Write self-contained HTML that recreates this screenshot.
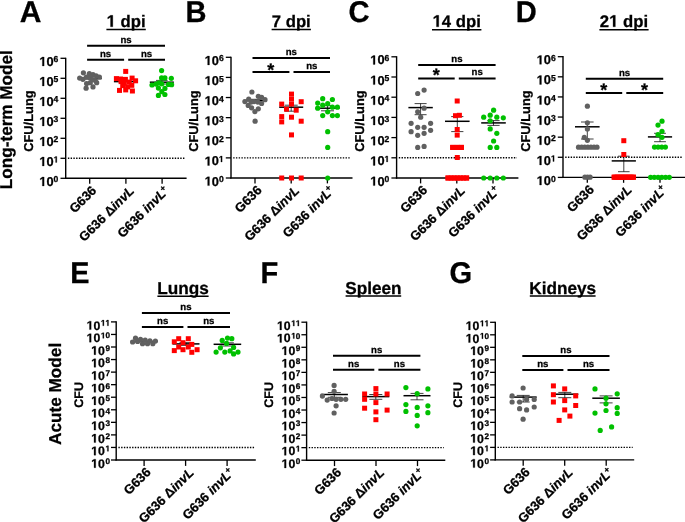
<!DOCTYPE html>
<html><head><meta charset="utf-8"><style>
html,body{margin:0;padding:0;background:#fff;}
svg{display:block;will-change:transform;}
text{font-family:"Liberation Sans", sans-serif;fill:#000;stroke:#000;stroke-width:0.28px;text-rendering:geometricPrecision;}
path.g1{stroke:#000;stroke-width:0.28px;}
</style></head><body>
<svg width="685" height="522" viewBox="0 0 685 522">
<rect width="685" height="522" fill="#fff"/>
<line x1="65.70" y1="57.70" x2="65.70" y2="178.90" stroke="#000" stroke-width="1.4" />
<line x1="60.50" y1="178.30" x2="65.70" y2="178.30" stroke="#000" stroke-width="1.3" />
<text x="53.62" y="182.40" font-size="8.6" font-weight="bold" style="font-kerning:none" xml:space="preserve" >0</text>
<path class="g1" vector-effect="non-scaling-stroke" d="M478,0 L478,1170 L140,959 L140,1180 L493,1409 L759,1409 L759,0 Z" transform="translate(39.38,185.90) scale(0.00625,-0.00625)"/>
<text x="46.50" y="185.90" font-size="12.8" font-weight="bold" style="font-kerning:none" xml:space="preserve" >0</text>
<line x1="60.50" y1="158.30" x2="65.70" y2="158.30" stroke="#000" stroke-width="1.3" />
<path class="g1" vector-effect="non-scaling-stroke" d="M478,0 L478,1170 L140,959 L140,1180 L493,1409 L759,1409 L759,0 Z" transform="translate(53.62,162.40) scale(0.00420,-0.00420)"/>
<path class="g1" vector-effect="non-scaling-stroke" d="M478,0 L478,1170 L140,959 L140,1180 L493,1409 L759,1409 L759,0 Z" transform="translate(39.38,165.90) scale(0.00625,-0.00625)"/>
<text x="46.50" y="165.90" font-size="12.8" font-weight="bold" style="font-kerning:none" xml:space="preserve" >0</text>
<line x1="60.50" y1="138.30" x2="65.70" y2="138.30" stroke="#000" stroke-width="1.3" />
<text x="53.62" y="142.40" font-size="8.6" font-weight="bold" style="font-kerning:none" xml:space="preserve" >2</text>
<path class="g1" vector-effect="non-scaling-stroke" d="M478,0 L478,1170 L140,959 L140,1180 L493,1409 L759,1409 L759,0 Z" transform="translate(39.38,145.90) scale(0.00625,-0.00625)"/>
<text x="46.50" y="145.90" font-size="12.8" font-weight="bold" style="font-kerning:none" xml:space="preserve" >0</text>
<line x1="60.50" y1="118.30" x2="65.70" y2="118.30" stroke="#000" stroke-width="1.3" />
<text x="53.62" y="122.40" font-size="8.6" font-weight="bold" style="font-kerning:none" xml:space="preserve" >3</text>
<path class="g1" vector-effect="non-scaling-stroke" d="M478,0 L478,1170 L140,959 L140,1180 L493,1409 L759,1409 L759,0 Z" transform="translate(39.38,125.90) scale(0.00625,-0.00625)"/>
<text x="46.50" y="125.90" font-size="12.8" font-weight="bold" style="font-kerning:none" xml:space="preserve" >0</text>
<line x1="60.50" y1="98.30" x2="65.70" y2="98.30" stroke="#000" stroke-width="1.3" />
<text x="53.62" y="102.40" font-size="8.6" font-weight="bold" style="font-kerning:none" xml:space="preserve" >4</text>
<path class="g1" vector-effect="non-scaling-stroke" d="M478,0 L478,1170 L140,959 L140,1180 L493,1409 L759,1409 L759,0 Z" transform="translate(39.38,105.90) scale(0.00625,-0.00625)"/>
<text x="46.50" y="105.90" font-size="12.8" font-weight="bold" style="font-kerning:none" xml:space="preserve" >0</text>
<line x1="60.50" y1="78.30" x2="65.70" y2="78.30" stroke="#000" stroke-width="1.3" />
<text x="53.62" y="82.40" font-size="8.6" font-weight="bold" style="font-kerning:none" xml:space="preserve" >5</text>
<path class="g1" vector-effect="non-scaling-stroke" d="M478,0 L478,1170 L140,959 L140,1180 L493,1409 L759,1409 L759,0 Z" transform="translate(39.38,85.90) scale(0.00625,-0.00625)"/>
<text x="46.50" y="85.90" font-size="12.8" font-weight="bold" style="font-kerning:none" xml:space="preserve" >0</text>
<line x1="60.50" y1="58.30" x2="65.70" y2="58.30" stroke="#000" stroke-width="1.3" />
<text x="53.62" y="62.40" font-size="8.6" font-weight="bold" style="font-kerning:none" xml:space="preserve" >6</text>
<path class="g1" vector-effect="non-scaling-stroke" d="M478,0 L478,1170 L140,959 L140,1180 L493,1409 L759,1409 L759,0 Z" transform="translate(39.38,65.90) scale(0.00625,-0.00625)"/>
<text x="46.50" y="65.90" font-size="12.8" font-weight="bold" style="font-kerning:none" xml:space="preserve" >0</text>
<line x1="65.00" y1="178.30" x2="186.60" y2="178.30" stroke="#000" stroke-width="1.4" />
<line x1="89.70" y1="178.30" x2="89.70" y2="183.70" stroke="#000" stroke-width="1.3" />
<line x1="125.90" y1="178.30" x2="125.90" y2="183.70" stroke="#000" stroke-width="1.3" />
<line x1="162.10" y1="178.30" x2="162.10" y2="183.70" stroke="#000" stroke-width="1.3" />
<line x1="67.90" y1="158.30" x2="185.10" y2="158.30" stroke="#000" stroke-width="1.4" stroke-dasharray="1.4 1.34"/>
<text transform="translate(97.20,191.30) rotate(-45)" font-size="13" font-weight="bold" text-anchor="end" stroke="#000" stroke-width="0.35">G636</text>
<text transform="translate(134.90,191.60) rotate(-45)" font-size="13" font-weight="bold" text-anchor="end" stroke="#000" stroke-width="0.35">G636 Δ<tspan font-style="italic">invL</tspan></text>
<text transform="translate(169.63,191.67) rotate(-45)" font-size="13" font-weight="bold" text-anchor="end" stroke="#000" stroke-width="0.35">G636 <tspan font-style="italic">invL</tspan><tspan dx="-0.77" dy="-4.5" font-size="8.5" stroke="#000" stroke-width="0.35">+</tspan></text>
<text transform="translate(33.00,121.1) rotate(-90)" font-size="12.85" font-weight="bold" text-anchor="middle">CFU/Lung</text>
<line x1="231.00" y1="56.70" x2="231.00" y2="178.60" stroke="#000" stroke-width="1.4" />
<line x1="225.80" y1="178.00" x2="231.00" y2="178.00" stroke="#000" stroke-width="1.3" />
<text x="218.92" y="182.10" font-size="8.6" font-weight="bold" style="font-kerning:none" xml:space="preserve" >0</text>
<path class="g1" vector-effect="non-scaling-stroke" d="M478,0 L478,1170 L140,959 L140,1180 L493,1409 L759,1409 L759,0 Z" transform="translate(204.68,185.60) scale(0.00625,-0.00625)"/>
<text x="211.80" y="185.60" font-size="12.8" font-weight="bold" style="font-kerning:none" xml:space="preserve" >0</text>
<line x1="225.80" y1="157.88" x2="231.00" y2="157.88" stroke="#000" stroke-width="1.3" />
<path class="g1" vector-effect="non-scaling-stroke" d="M478,0 L478,1170 L140,959 L140,1180 L493,1409 L759,1409 L759,0 Z" transform="translate(218.92,161.98) scale(0.00420,-0.00420)"/>
<path class="g1" vector-effect="non-scaling-stroke" d="M478,0 L478,1170 L140,959 L140,1180 L493,1409 L759,1409 L759,0 Z" transform="translate(204.68,165.48) scale(0.00625,-0.00625)"/>
<text x="211.80" y="165.48" font-size="12.8" font-weight="bold" style="font-kerning:none" xml:space="preserve" >0</text>
<line x1="225.80" y1="137.77" x2="231.00" y2="137.77" stroke="#000" stroke-width="1.3" />
<text x="218.92" y="141.87" font-size="8.6" font-weight="bold" style="font-kerning:none" xml:space="preserve" >2</text>
<path class="g1" vector-effect="non-scaling-stroke" d="M478,0 L478,1170 L140,959 L140,1180 L493,1409 L759,1409 L759,0 Z" transform="translate(204.68,145.37) scale(0.00625,-0.00625)"/>
<text x="211.80" y="145.37" font-size="12.8" font-weight="bold" style="font-kerning:none" xml:space="preserve" >0</text>
<line x1="225.80" y1="117.65" x2="231.00" y2="117.65" stroke="#000" stroke-width="1.3" />
<text x="218.92" y="121.75" font-size="8.6" font-weight="bold" style="font-kerning:none" xml:space="preserve" >3</text>
<path class="g1" vector-effect="non-scaling-stroke" d="M478,0 L478,1170 L140,959 L140,1180 L493,1409 L759,1409 L759,0 Z" transform="translate(204.68,125.25) scale(0.00625,-0.00625)"/>
<text x="211.80" y="125.25" font-size="12.8" font-weight="bold" style="font-kerning:none" xml:space="preserve" >0</text>
<line x1="225.80" y1="97.53" x2="231.00" y2="97.53" stroke="#000" stroke-width="1.3" />
<text x="218.92" y="101.63" font-size="8.6" font-weight="bold" style="font-kerning:none" xml:space="preserve" >4</text>
<path class="g1" vector-effect="non-scaling-stroke" d="M478,0 L478,1170 L140,959 L140,1180 L493,1409 L759,1409 L759,0 Z" transform="translate(204.68,105.13) scale(0.00625,-0.00625)"/>
<text x="211.80" y="105.13" font-size="12.8" font-weight="bold" style="font-kerning:none" xml:space="preserve" >0</text>
<line x1="225.80" y1="77.42" x2="231.00" y2="77.42" stroke="#000" stroke-width="1.3" />
<text x="218.92" y="81.52" font-size="8.6" font-weight="bold" style="font-kerning:none" xml:space="preserve" >5</text>
<path class="g1" vector-effect="non-scaling-stroke" d="M478,0 L478,1170 L140,959 L140,1180 L493,1409 L759,1409 L759,0 Z" transform="translate(204.68,85.02) scale(0.00625,-0.00625)"/>
<text x="211.80" y="85.02" font-size="12.8" font-weight="bold" style="font-kerning:none" xml:space="preserve" >0</text>
<line x1="225.80" y1="57.30" x2="231.00" y2="57.30" stroke="#000" stroke-width="1.3" />
<text x="218.92" y="61.40" font-size="8.6" font-weight="bold" style="font-kerning:none" xml:space="preserve" >6</text>
<path class="g1" vector-effect="non-scaling-stroke" d="M478,0 L478,1170 L140,959 L140,1180 L493,1409 L759,1409 L759,0 Z" transform="translate(204.68,64.90) scale(0.00625,-0.00625)"/>
<text x="211.80" y="64.90" font-size="12.8" font-weight="bold" style="font-kerning:none" xml:space="preserve" >0</text>
<line x1="230.30" y1="178.00" x2="352.50" y2="178.00" stroke="#000" stroke-width="1.4" />
<line x1="255.00" y1="178.00" x2="255.00" y2="183.40" stroke="#000" stroke-width="1.3" />
<line x1="291.20" y1="178.00" x2="291.20" y2="183.40" stroke="#000" stroke-width="1.3" />
<line x1="327.40" y1="178.00" x2="327.40" y2="183.40" stroke="#000" stroke-width="1.3" />
<line x1="233.20" y1="157.88" x2="351.00" y2="157.88" stroke="#000" stroke-width="1.4" stroke-dasharray="1.4 1.34"/>
<text transform="translate(262.50,191.00) rotate(-45)" font-size="13" font-weight="bold" text-anchor="end" stroke="#000" stroke-width="0.35">G636</text>
<text transform="translate(300.20,191.30) rotate(-45)" font-size="13" font-weight="bold" text-anchor="end" stroke="#000" stroke-width="0.35">G636 Δ<tspan font-style="italic">invL</tspan></text>
<text transform="translate(334.93,191.37) rotate(-45)" font-size="13" font-weight="bold" text-anchor="end" stroke="#000" stroke-width="0.35">G636 <tspan font-style="italic">invL</tspan><tspan dx="-0.77" dy="-4.5" font-size="8.5" stroke="#000" stroke-width="0.35">+</tspan></text>
<text transform="translate(198.30,121.1) rotate(-90)" font-size="12.85" font-weight="bold" text-anchor="middle">CFU/Lung</text>
<line x1="396.60" y1="56.20" x2="396.60" y2="178.60" stroke="#000" stroke-width="1.4" />
<line x1="391.40" y1="178.00" x2="396.60" y2="178.00" stroke="#000" stroke-width="1.3" />
<text x="384.52" y="182.10" font-size="8.6" font-weight="bold" style="font-kerning:none" xml:space="preserve" >0</text>
<path class="g1" vector-effect="non-scaling-stroke" d="M478,0 L478,1170 L140,959 L140,1180 L493,1409 L759,1409 L759,0 Z" transform="translate(370.28,185.60) scale(0.00625,-0.00625)"/>
<text x="377.40" y="185.60" font-size="12.8" font-weight="bold" style="font-kerning:none" xml:space="preserve" >0</text>
<line x1="391.40" y1="157.80" x2="396.60" y2="157.80" stroke="#000" stroke-width="1.3" />
<path class="g1" vector-effect="non-scaling-stroke" d="M478,0 L478,1170 L140,959 L140,1180 L493,1409 L759,1409 L759,0 Z" transform="translate(384.52,161.90) scale(0.00420,-0.00420)"/>
<path class="g1" vector-effect="non-scaling-stroke" d="M478,0 L478,1170 L140,959 L140,1180 L493,1409 L759,1409 L759,0 Z" transform="translate(370.28,165.40) scale(0.00625,-0.00625)"/>
<text x="377.40" y="165.40" font-size="12.8" font-weight="bold" style="font-kerning:none" xml:space="preserve" >0</text>
<line x1="391.40" y1="137.60" x2="396.60" y2="137.60" stroke="#000" stroke-width="1.3" />
<text x="384.52" y="141.70" font-size="8.6" font-weight="bold" style="font-kerning:none" xml:space="preserve" >2</text>
<path class="g1" vector-effect="non-scaling-stroke" d="M478,0 L478,1170 L140,959 L140,1180 L493,1409 L759,1409 L759,0 Z" transform="translate(370.28,145.20) scale(0.00625,-0.00625)"/>
<text x="377.40" y="145.20" font-size="12.8" font-weight="bold" style="font-kerning:none" xml:space="preserve" >0</text>
<line x1="391.40" y1="117.40" x2="396.60" y2="117.40" stroke="#000" stroke-width="1.3" />
<text x="384.52" y="121.50" font-size="8.6" font-weight="bold" style="font-kerning:none" xml:space="preserve" >3</text>
<path class="g1" vector-effect="non-scaling-stroke" d="M478,0 L478,1170 L140,959 L140,1180 L493,1409 L759,1409 L759,0 Z" transform="translate(370.28,125.00) scale(0.00625,-0.00625)"/>
<text x="377.40" y="125.00" font-size="12.8" font-weight="bold" style="font-kerning:none" xml:space="preserve" >0</text>
<line x1="391.40" y1="97.20" x2="396.60" y2="97.20" stroke="#000" stroke-width="1.3" />
<text x="384.52" y="101.30" font-size="8.6" font-weight="bold" style="font-kerning:none" xml:space="preserve" >4</text>
<path class="g1" vector-effect="non-scaling-stroke" d="M478,0 L478,1170 L140,959 L140,1180 L493,1409 L759,1409 L759,0 Z" transform="translate(370.28,104.80) scale(0.00625,-0.00625)"/>
<text x="377.40" y="104.80" font-size="12.8" font-weight="bold" style="font-kerning:none" xml:space="preserve" >0</text>
<line x1="391.40" y1="77.00" x2="396.60" y2="77.00" stroke="#000" stroke-width="1.3" />
<text x="384.52" y="81.10" font-size="8.6" font-weight="bold" style="font-kerning:none" xml:space="preserve" >5</text>
<path class="g1" vector-effect="non-scaling-stroke" d="M478,0 L478,1170 L140,959 L140,1180 L493,1409 L759,1409 L759,0 Z" transform="translate(370.28,84.60) scale(0.00625,-0.00625)"/>
<text x="377.40" y="84.60" font-size="12.8" font-weight="bold" style="font-kerning:none" xml:space="preserve" >0</text>
<line x1="391.40" y1="56.80" x2="396.60" y2="56.80" stroke="#000" stroke-width="1.3" />
<text x="384.52" y="60.90" font-size="8.6" font-weight="bold" style="font-kerning:none" xml:space="preserve" >6</text>
<path class="g1" vector-effect="non-scaling-stroke" d="M478,0 L478,1170 L140,959 L140,1180 L493,1409 L759,1409 L759,0 Z" transform="translate(370.28,64.40) scale(0.00625,-0.00625)"/>
<text x="377.40" y="64.40" font-size="12.8" font-weight="bold" style="font-kerning:none" xml:space="preserve" >0</text>
<line x1="395.90" y1="178.00" x2="518.40" y2="178.00" stroke="#000" stroke-width="1.4" />
<line x1="420.60" y1="178.00" x2="420.60" y2="183.40" stroke="#000" stroke-width="1.3" />
<line x1="456.80" y1="178.00" x2="456.80" y2="183.40" stroke="#000" stroke-width="1.3" />
<line x1="493.00" y1="178.00" x2="493.00" y2="183.40" stroke="#000" stroke-width="1.3" />
<line x1="398.80" y1="157.80" x2="516.90" y2="157.80" stroke="#000" stroke-width="1.4" stroke-dasharray="1.4 1.34"/>
<text transform="translate(428.10,191.00) rotate(-45)" font-size="13" font-weight="bold" text-anchor="end" stroke="#000" stroke-width="0.35">G636</text>
<text transform="translate(465.80,191.30) rotate(-45)" font-size="13" font-weight="bold" text-anchor="end" stroke="#000" stroke-width="0.35">G636 Δ<tspan font-style="italic">invL</tspan></text>
<text transform="translate(500.53,191.37) rotate(-45)" font-size="13" font-weight="bold" text-anchor="end" stroke="#000" stroke-width="0.35">G636 <tspan font-style="italic">invL</tspan><tspan dx="-0.77" dy="-4.5" font-size="8.5" stroke="#000" stroke-width="0.35">+</tspan></text>
<text transform="translate(363.90,121.1) rotate(-90)" font-size="12.85" font-weight="bold" text-anchor="middle">CFU/Lung</text>
<line x1="563.00" y1="56.10" x2="563.00" y2="178.00" stroke="#000" stroke-width="1.4" />
<line x1="557.80" y1="177.40" x2="563.00" y2="177.40" stroke="#000" stroke-width="1.3" />
<text x="550.92" y="181.50" font-size="8.6" font-weight="bold" style="font-kerning:none" xml:space="preserve" >0</text>
<path class="g1" vector-effect="non-scaling-stroke" d="M478,0 L478,1170 L140,959 L140,1180 L493,1409 L759,1409 L759,0 Z" transform="translate(536.68,185.00) scale(0.00625,-0.00625)"/>
<text x="543.80" y="185.00" font-size="12.8" font-weight="bold" style="font-kerning:none" xml:space="preserve" >0</text>
<line x1="557.80" y1="157.28" x2="563.00" y2="157.28" stroke="#000" stroke-width="1.3" />
<path class="g1" vector-effect="non-scaling-stroke" d="M478,0 L478,1170 L140,959 L140,1180 L493,1409 L759,1409 L759,0 Z" transform="translate(550.92,161.38) scale(0.00420,-0.00420)"/>
<path class="g1" vector-effect="non-scaling-stroke" d="M478,0 L478,1170 L140,959 L140,1180 L493,1409 L759,1409 L759,0 Z" transform="translate(536.68,164.88) scale(0.00625,-0.00625)"/>
<text x="543.80" y="164.88" font-size="12.8" font-weight="bold" style="font-kerning:none" xml:space="preserve" >0</text>
<line x1="557.80" y1="137.17" x2="563.00" y2="137.17" stroke="#000" stroke-width="1.3" />
<text x="550.92" y="141.27" font-size="8.6" font-weight="bold" style="font-kerning:none" xml:space="preserve" >2</text>
<path class="g1" vector-effect="non-scaling-stroke" d="M478,0 L478,1170 L140,959 L140,1180 L493,1409 L759,1409 L759,0 Z" transform="translate(536.68,144.77) scale(0.00625,-0.00625)"/>
<text x="543.80" y="144.77" font-size="12.8" font-weight="bold" style="font-kerning:none" xml:space="preserve" >0</text>
<line x1="557.80" y1="117.05" x2="563.00" y2="117.05" stroke="#000" stroke-width="1.3" />
<text x="550.92" y="121.15" font-size="8.6" font-weight="bold" style="font-kerning:none" xml:space="preserve" >3</text>
<path class="g1" vector-effect="non-scaling-stroke" d="M478,0 L478,1170 L140,959 L140,1180 L493,1409 L759,1409 L759,0 Z" transform="translate(536.68,124.65) scale(0.00625,-0.00625)"/>
<text x="543.80" y="124.65" font-size="12.8" font-weight="bold" style="font-kerning:none" xml:space="preserve" >0</text>
<line x1="557.80" y1="96.93" x2="563.00" y2="96.93" stroke="#000" stroke-width="1.3" />
<text x="550.92" y="101.03" font-size="8.6" font-weight="bold" style="font-kerning:none" xml:space="preserve" >4</text>
<path class="g1" vector-effect="non-scaling-stroke" d="M478,0 L478,1170 L140,959 L140,1180 L493,1409 L759,1409 L759,0 Z" transform="translate(536.68,104.53) scale(0.00625,-0.00625)"/>
<text x="543.80" y="104.53" font-size="12.8" font-weight="bold" style="font-kerning:none" xml:space="preserve" >0</text>
<line x1="557.80" y1="76.82" x2="563.00" y2="76.82" stroke="#000" stroke-width="1.3" />
<text x="550.92" y="80.92" font-size="8.6" font-weight="bold" style="font-kerning:none" xml:space="preserve" >5</text>
<path class="g1" vector-effect="non-scaling-stroke" d="M478,0 L478,1170 L140,959 L140,1180 L493,1409 L759,1409 L759,0 Z" transform="translate(536.68,84.42) scale(0.00625,-0.00625)"/>
<text x="543.80" y="84.42" font-size="12.8" font-weight="bold" style="font-kerning:none" xml:space="preserve" >0</text>
<line x1="557.80" y1="56.70" x2="563.00" y2="56.70" stroke="#000" stroke-width="1.3" />
<text x="550.92" y="60.80" font-size="8.6" font-weight="bold" style="font-kerning:none" xml:space="preserve" >6</text>
<path class="g1" vector-effect="non-scaling-stroke" d="M478,0 L478,1170 L140,959 L140,1180 L493,1409 L759,1409 L759,0 Z" transform="translate(536.68,64.30) scale(0.00625,-0.00625)"/>
<text x="543.80" y="64.30" font-size="12.8" font-weight="bold" style="font-kerning:none" xml:space="preserve" >0</text>
<line x1="562.30" y1="177.40" x2="685.50" y2="177.40" stroke="#000" stroke-width="1.4" />
<line x1="587.30" y1="177.40" x2="587.30" y2="182.80" stroke="#000" stroke-width="1.3" />
<line x1="623.60" y1="177.40" x2="623.60" y2="182.80" stroke="#000" stroke-width="1.3" />
<line x1="660.00" y1="177.40" x2="660.00" y2="182.80" stroke="#000" stroke-width="1.3" />
<line x1="565.20" y1="157.28" x2="682.80" y2="157.28" stroke="#000" stroke-width="1.4" stroke-dasharray="1.4 1.34"/>
<text transform="translate(594.80,190.40) rotate(-45)" font-size="13" font-weight="bold" text-anchor="end" stroke="#000" stroke-width="0.35">G636</text>
<text transform="translate(632.60,190.70) rotate(-45)" font-size="13" font-weight="bold" text-anchor="end" stroke="#000" stroke-width="0.35">G636 Δ<tspan font-style="italic">invL</tspan></text>
<text transform="translate(667.53,190.77) rotate(-45)" font-size="13" font-weight="bold" text-anchor="end" stroke="#000" stroke-width="0.35">G636 <tspan font-style="italic">invL</tspan><tspan dx="-0.77" dy="-4.5" font-size="8.5" stroke="#000" stroke-width="0.35">+</tspan></text>
<text transform="translate(530.30,121.1) rotate(-90)" font-size="12.85" font-weight="bold" text-anchor="middle">CFU/Lung</text>
<text transform="translate(19.7,21.8) scale(1.0,1)" font-size="30" font-weight="bold">A</text>
<text transform="translate(185.4,21.8) scale(0.97,1)" font-size="30" font-weight="bold">B</text>
<text transform="translate(348.5,21.8) scale(0.97,1)" font-size="30" font-weight="bold">C</text>
<text transform="translate(515.7,21.8) scale(0.97,1)" font-size="30" font-weight="bold">D</text>
<text transform="translate(70.3,282.8) scale(0.96,1)" font-size="30" font-weight="bold">E</text>
<text transform="translate(260.4,282.8) scale(0.97,1)" font-size="30" font-weight="bold">F</text>
<text transform="translate(449.6,282.8) scale(0.97,1)" font-size="30" font-weight="bold">G</text>
<path class="g1" vector-effect="non-scaling-stroke" d="M478,0 L478,1170 L140,959 L140,1180 L493,1409 L759,1409 L759,0 Z" transform="translate(106.62,26.80) scale(0.00815,-0.00815)"/>
<text x="115.90" y="26.80" font-size="16.7" font-weight="bold" style="font-kerning:none" xml:space="preserve" > dpi</text>
<line x1="106.40" y1="29.50" x2="145.80" y2="29.50" stroke="#000" stroke-width="1.6" />
<text x="271.77" y="26.80" font-size="16.7" font-weight="bold" style="font-kerning:none" xml:space="preserve" >7 dpi</text>
<line x1="271.60" y1="29.50" x2="310.90" y2="29.50" stroke="#000" stroke-width="1.6" />
<path class="g1" vector-effect="non-scaling-stroke" d="M478,0 L478,1170 L140,959 L140,1180 L493,1409 L759,1409 L759,0 Z" transform="translate(432.57,26.80) scale(0.00815,-0.00815)"/>
<text x="441.86" y="26.80" font-size="16.7" font-weight="bold" style="font-kerning:none" xml:space="preserve" >4 dpi</text>
<line x1="432.00" y1="29.70" x2="481.40" y2="29.70" stroke="#000" stroke-width="1.6" />
<text x="599.87" y="26.80" font-size="16.7" font-weight="bold" style="font-kerning:none" xml:space="preserve" >2</text>
<path class="g1" vector-effect="non-scaling-stroke" d="M478,0 L478,1170 L140,959 L140,1180 L493,1409 L759,1409 L759,0 Z" transform="translate(609.16,26.80) scale(0.00815,-0.00815)"/>
<text x="618.45" y="26.80" font-size="16.7" font-weight="bold" style="font-kerning:none" xml:space="preserve" > dpi</text>
<line x1="599.40" y1="29.70" x2="648.60" y2="29.70" stroke="#000" stroke-width="1.6" />
<text transform="translate(12.2,119.65) rotate(-90)" font-size="17.15" font-weight="bold" text-anchor="middle">Long-term Model</text>
<line x1="87.10" y1="45.70" x2="165.00" y2="45.70" stroke="#000" stroke-width="2.0" />
<line x1="87.10" y1="59.70" x2="124.10" y2="59.70" stroke="#000" stroke-width="2.0" />
<line x1="128.20" y1="59.70" x2="165.00" y2="59.70" stroke="#000" stroke-width="2.0" />
<text x="126.05" y="42.50" font-size="9.6" font-weight="bold" text-anchor="middle" >ns</text>
<text x="105.60" y="56.50" font-size="9.6" font-weight="bold" text-anchor="middle" >ns</text>
<text x="146.60" y="56.50" font-size="9.6" font-weight="bold" text-anchor="middle" >ns</text>
<line x1="252.50" y1="57.90" x2="330.00" y2="57.90" stroke="#000" stroke-width="2.0" />
<line x1="252.50" y1="72.00" x2="289.40" y2="72.00" stroke="#000" stroke-width="2.0" />
<line x1="293.50" y1="72.00" x2="330.00" y2="72.00" stroke="#000" stroke-width="2.0" />
<text x="291.25" y="54.70" font-size="9.6" font-weight="bold" text-anchor="middle" >ns</text>
<text x="270.75" y="75.50" font-size="18" font-weight="bold" text-anchor="middle" >*</text>
<text x="311.75" y="68.80" font-size="9.6" font-weight="bold" text-anchor="middle" >ns</text>
<line x1="418.20" y1="64.90" x2="495.60" y2="64.90" stroke="#000" stroke-width="2.0" />
<line x1="418.20" y1="78.50" x2="454.70" y2="78.50" stroke="#000" stroke-width="2.0" />
<line x1="458.80" y1="78.50" x2="495.60" y2="78.50" stroke="#000" stroke-width="2.0" />
<text x="456.90" y="61.70" font-size="9.6" font-weight="bold" text-anchor="middle" >ns</text>
<text x="436.25" y="80.70" font-size="18" font-weight="bold" text-anchor="middle" >*</text>
<text x="477.20" y="75.30" font-size="9.6" font-weight="bold" text-anchor="middle" >ns</text>
<line x1="585.80" y1="78.70" x2="663.20" y2="78.70" stroke="#000" stroke-width="2.0" />
<line x1="585.80" y1="92.90" x2="622.20" y2="92.90" stroke="#000" stroke-width="2.0" />
<line x1="626.30" y1="92.90" x2="663.20" y2="92.90" stroke="#000" stroke-width="2.0" />
<text x="624.50" y="75.50" font-size="9.6" font-weight="bold" text-anchor="middle" >ns</text>
<text x="603.80" y="96.00" font-size="18" font-weight="bold" text-anchor="middle" >*</text>
<text x="644.55" y="96.00" font-size="18" font-weight="bold" text-anchor="middle" >*</text>
<line x1="77.70" y1="78.60" x2="101.70" y2="78.60" stroke="#000" stroke-width="1.5" />
<circle cx="83.40" cy="72.80" r="2.6" fill="#606060"/>
<circle cx="79.70" cy="78.10" r="2.6" fill="#606060"/>
<circle cx="82.90" cy="79.30" r="2.6" fill="#606060"/>
<circle cx="89.30" cy="73.50" r="2.6" fill="#606060"/>
<circle cx="93.00" cy="74.70" r="2.6" fill="#606060"/>
<circle cx="96.20" cy="75.80" r="2.6" fill="#606060"/>
<circle cx="99.40" cy="77.00" r="2.6" fill="#606060"/>
<circle cx="86.30" cy="77.20" r="2.6" fill="#606060"/>
<circle cx="89.80" cy="77.70" r="2.6" fill="#606060"/>
<circle cx="95.30" cy="80.40" r="2.6" fill="#606060"/>
<circle cx="96.70" cy="82.70" r="2.6" fill="#606060"/>
<circle cx="86.60" cy="83.60" r="2.6" fill="#606060"/>
<circle cx="90.30" cy="82.70" r="2.6" fill="#606060"/>
<circle cx="86.10" cy="88.20" r="2.6" fill="#606060"/>
<circle cx="93.00" cy="86.90" r="2.6" fill="#606060"/>
<circle cx="92.60" cy="79.50" r="2.6" fill="#606060"/>
<line x1="113.90" y1="81.60" x2="137.50" y2="81.60" stroke="#000" stroke-width="1.5" />
<rect x="123.20" y="68.90" width="5.0" height="5.0" fill="#ff0000"/>
<rect x="113.90" y="76.10" width="5.0" height="5.0" fill="#ff0000"/>
<rect x="122.90" y="76.90" width="5.0" height="5.0" fill="#ff0000"/>
<rect x="129.60" y="75.60" width="5.0" height="5.0" fill="#ff0000"/>
<rect x="133.10" y="78.30" width="5.0" height="5.0" fill="#ff0000"/>
<rect x="118.60" y="79.10" width="5.0" height="5.0" fill="#ff0000"/>
<rect x="126.70" y="79.60" width="5.0" height="5.0" fill="#ff0000"/>
<rect x="120.20" y="83.10" width="5.0" height="5.0" fill="#ff0000"/>
<rect x="129.30" y="82.80" width="5.0" height="5.0" fill="#ff0000"/>
<rect x="117.00" y="87.90" width="5.0" height="5.0" fill="#ff0000"/>
<rect x="123.20" y="87.40" width="5.0" height="5.0" fill="#ff0000"/>
<rect x="129.90" y="88.50" width="5.0" height="5.0" fill="#ff0000"/>
<rect x="125.10" y="84.40" width="5.0" height="5.0" fill="#ff0000"/>
<rect x="121.80" y="80.70" width="5.0" height="5.0" fill="#ff0000"/>
<rect x="118.00" y="76.50" width="5.0" height="5.0" fill="#ff0000"/>
<line x1="161.80" y1="80.40" x2="161.80" y2="84.00" stroke="#000" stroke-width="0.75" />
<line x1="156.00" y1="80.40" x2="167.60" y2="80.40" stroke="#000" stroke-width="0.75" />
<line x1="156.00" y1="84.00" x2="167.60" y2="84.00" stroke="#000" stroke-width="0.75" />
<line x1="149.80" y1="82.20" x2="173.80" y2="82.20" stroke="#000" stroke-width="1.5" />
<circle cx="161.60" cy="70.60" r="2.6" fill="#00c000"/>
<circle cx="161.60" cy="77.90" r="2.6" fill="#00c000"/>
<circle cx="164.90" cy="77.90" r="2.6" fill="#00c000"/>
<circle cx="171.30" cy="78.30" r="2.6" fill="#00c000"/>
<circle cx="152.00" cy="85.00" r="2.6" fill="#00c000"/>
<circle cx="156.00" cy="84.10" r="2.6" fill="#00c000"/>
<circle cx="159.00" cy="82.90" r="2.6" fill="#00c000"/>
<circle cx="161.80" cy="83.80" r="2.6" fill="#00c000"/>
<circle cx="168.50" cy="84.40" r="2.6" fill="#00c000"/>
<circle cx="171.60" cy="84.70" r="2.6" fill="#00c000"/>
<circle cx="158.40" cy="88.10" r="2.6" fill="#00c000"/>
<circle cx="164.90" cy="88.40" r="2.6" fill="#00c000"/>
<circle cx="161.80" cy="91.70" r="2.6" fill="#00c000"/>
<circle cx="158.40" cy="95.40" r="2.6" fill="#00c000"/>
<circle cx="164.90" cy="94.50" r="2.6" fill="#00c000"/>
<line x1="255.00" y1="99.30" x2="255.00" y2="102.00" stroke="#000" stroke-width="0.75" />
<line x1="249.00" y1="99.30" x2="261.00" y2="99.30" stroke="#000" stroke-width="0.75" />
<line x1="249.00" y1="102.00" x2="261.00" y2="102.00" stroke="#000" stroke-width="0.75" />
<line x1="243.00" y1="100.60" x2="267.00" y2="100.60" stroke="#000" stroke-width="1.5" />
<circle cx="251.90" cy="92.00" r="2.6" fill="#606060"/>
<circle cx="258.30" cy="96.30" r="2.6" fill="#606060"/>
<circle cx="261.60" cy="97.30" r="2.6" fill="#606060"/>
<circle cx="265.00" cy="99.70" r="2.6" fill="#606060"/>
<circle cx="248.70" cy="99.20" r="2.6" fill="#606060"/>
<circle cx="244.90" cy="101.60" r="2.6" fill="#606060"/>
<circle cx="254.00" cy="101.60" r="2.6" fill="#606060"/>
<circle cx="261.60" cy="103.50" r="2.6" fill="#606060"/>
<circle cx="248.20" cy="105.40" r="2.6" fill="#606060"/>
<circle cx="251.60" cy="107.80" r="2.6" fill="#606060"/>
<circle cx="258.30" cy="108.80" r="2.6" fill="#606060"/>
<circle cx="254.90" cy="111.60" r="2.6" fill="#606060"/>
<circle cx="255.10" cy="121.20" r="2.6" fill="#606060"/>
<circle cx="257.80" cy="102.10" r="2.6" fill="#606060"/>
<circle cx="251.10" cy="102.10" r="2.6" fill="#606060"/>
<line x1="291.20" y1="105.20" x2="291.20" y2="111.20" stroke="#000" stroke-width="0.75" />
<line x1="284.70" y1="105.20" x2="297.70" y2="105.20" stroke="#000" stroke-width="0.75" />
<line x1="284.70" y1="111.20" x2="297.70" y2="111.20" stroke="#000" stroke-width="0.75" />
<line x1="279.20" y1="107.20" x2="303.20" y2="107.20" stroke="#000" stroke-width="1.5" />
<rect x="289.00" y="91.60" width="5.0" height="5.0" fill="#ff0000"/>
<rect x="289.00" y="96.60" width="5.0" height="5.0" fill="#ff0000"/>
<rect x="298.70" y="99.20" width="5.0" height="5.0" fill="#ff0000"/>
<rect x="279.20" y="101.60" width="5.0" height="5.0" fill="#ff0000"/>
<rect x="289.00" y="101.60" width="5.0" height="5.0" fill="#ff0000"/>
<rect x="284.00" y="106.70" width="5.0" height="5.0" fill="#ff0000"/>
<rect x="293.70" y="107.70" width="5.0" height="5.0" fill="#ff0000"/>
<rect x="279.20" y="114.10" width="5.0" height="5.0" fill="#ff0000"/>
<rect x="289.00" y="114.70" width="5.0" height="5.0" fill="#ff0000"/>
<rect x="279.20" y="119.40" width="5.0" height="5.0" fill="#ff0000"/>
<rect x="298.70" y="118.70" width="5.0" height="5.0" fill="#ff0000"/>
<rect x="289.00" y="132.40" width="5.0" height="5.0" fill="#ff0000"/>
<rect x="279.20" y="175.50" width="5.0" height="5.0" fill="#ff0000"/>
<rect x="289.00" y="175.50" width="5.0" height="5.0" fill="#ff0000"/>
<rect x="298.70" y="175.50" width="5.0" height="5.0" fill="#ff0000"/>
<line x1="327.50" y1="105.70" x2="327.50" y2="110.80" stroke="#000" stroke-width="0.75" />
<line x1="321.00" y1="105.70" x2="334.00" y2="105.70" stroke="#000" stroke-width="0.75" />
<line x1="321.00" y1="110.80" x2="334.00" y2="110.80" stroke="#000" stroke-width="0.75" />
<line x1="315.50" y1="108.20" x2="339.50" y2="108.20" stroke="#000" stroke-width="1.5" />
<circle cx="322.70" cy="98.70" r="2.6" fill="#00c000"/>
<circle cx="332.40" cy="99.50" r="2.6" fill="#00c000"/>
<circle cx="317.70" cy="103.10" r="2.6" fill="#00c000"/>
<circle cx="322.70" cy="105.20" r="2.6" fill="#00c000"/>
<circle cx="327.70" cy="103.70" r="2.6" fill="#00c000"/>
<circle cx="317.70" cy="108.20" r="2.6" fill="#00c000"/>
<circle cx="332.40" cy="107.20" r="2.6" fill="#00c000"/>
<circle cx="337.40" cy="107.20" r="2.6" fill="#00c000"/>
<circle cx="327.70" cy="111.80" r="2.6" fill="#00c000"/>
<circle cx="322.70" cy="115.60" r="2.6" fill="#00c000"/>
<circle cx="332.40" cy="115.60" r="2.6" fill="#00c000"/>
<circle cx="337.40" cy="115.60" r="2.6" fill="#00c000"/>
<circle cx="327.70" cy="131.70" r="2.6" fill="#00c000"/>
<circle cx="327.70" cy="147.40" r="2.6" fill="#00c000"/>
<circle cx="327.70" cy="178.00" r="2.6" fill="#00c000"/>
<line x1="420.60" y1="103.60" x2="420.60" y2="114.70" stroke="#000" stroke-width="0.75" />
<line x1="414.60" y1="103.60" x2="426.60" y2="103.60" stroke="#000" stroke-width="0.75" />
<line x1="414.60" y1="114.70" x2="426.60" y2="114.70" stroke="#000" stroke-width="0.75" />
<line x1="408.40" y1="107.60" x2="432.80" y2="107.60" stroke="#000" stroke-width="1.5" />
<circle cx="424.10" cy="90.10" r="2.6" fill="#606060"/>
<circle cx="417.70" cy="93.50" r="2.6" fill="#606060"/>
<circle cx="424.10" cy="108.20" r="2.6" fill="#606060"/>
<circle cx="417.70" cy="111.80" r="2.6" fill="#606060"/>
<circle cx="420.70" cy="117.20" r="2.6" fill="#606060"/>
<circle cx="411.10" cy="123.30" r="2.6" fill="#606060"/>
<circle cx="430.60" cy="123.30" r="2.6" fill="#606060"/>
<circle cx="417.70" cy="127.30" r="2.6" fill="#606060"/>
<circle cx="424.10" cy="127.30" r="2.6" fill="#606060"/>
<circle cx="411.10" cy="131.70" r="2.6" fill="#606060"/>
<circle cx="430.60" cy="130.30" r="2.6" fill="#606060"/>
<circle cx="417.70" cy="135.30" r="2.6" fill="#606060"/>
<circle cx="424.10" cy="133.30" r="2.6" fill="#606060"/>
<circle cx="417.70" cy="147.40" r="2.6" fill="#606060"/>
<circle cx="424.10" cy="146.40" r="2.6" fill="#606060"/>
<line x1="457.30" y1="116.60" x2="457.30" y2="131.60" stroke="#000" stroke-width="0.75" />
<line x1="451.20" y1="116.60" x2="463.40" y2="116.60" stroke="#000" stroke-width="0.75" />
<line x1="451.20" y1="131.60" x2="463.40" y2="131.60" stroke="#000" stroke-width="0.75" />
<line x1="445.00" y1="121.30" x2="469.60" y2="121.30" stroke="#000" stroke-width="1.5" />
<rect x="445.5" y="175.5" width="23.6" height="5" fill="#ff0000"/>
<rect x="450.2" y="144.9" width="13.7" height="5" fill="#ff0000"/>
<rect x="454.70" y="98.50" width="5.0" height="5.0" fill="#ff0000"/>
<rect x="453.00" y="113.20" width="5.0" height="5.0" fill="#ff0000"/>
<rect x="456.90" y="112.80" width="5.0" height="5.0" fill="#ff0000"/>
<rect x="454.70" y="127.00" width="5.0" height="5.0" fill="#ff0000"/>
<rect x="454.70" y="132.60" width="5.0" height="5.0" fill="#ff0000"/>
<rect x="450.20" y="144.90" width="5.0" height="5.0" fill="#ff0000"/>
<rect x="454.80" y="144.90" width="5.0" height="5.0" fill="#ff0000"/>
<rect x="458.90" y="144.90" width="5.0" height="5.0" fill="#ff0000"/>
<rect x="454.80" y="155.00" width="5.0" height="5.0" fill="#ff0000"/>
<rect x="445.50" y="175.50" width="5.0" height="5.0" fill="#ff0000"/>
<rect x="448.60" y="175.50" width="5.0" height="5.0" fill="#ff0000"/>
<rect x="451.70" y="175.50" width="5.0" height="5.0" fill="#ff0000"/>
<rect x="454.80" y="175.50" width="5.0" height="5.0" fill="#ff0000"/>
<rect x="457.90" y="175.50" width="5.0" height="5.0" fill="#ff0000"/>
<rect x="461.00" y="175.50" width="5.0" height="5.0" fill="#ff0000"/>
<rect x="464.10" y="175.50" width="5.0" height="5.0" fill="#ff0000"/>
<line x1="493.50" y1="120.60" x2="493.50" y2="125.40" stroke="#000" stroke-width="0.75" />
<line x1="487.40" y1="120.60" x2="499.60" y2="120.60" stroke="#000" stroke-width="0.75" />
<line x1="487.40" y1="125.40" x2="499.60" y2="125.40" stroke="#000" stroke-width="0.75" />
<line x1="481.20" y1="122.90" x2="505.80" y2="122.90" stroke="#000" stroke-width="1.5" />
<circle cx="493.60" cy="110.20" r="2.6" fill="#00c000"/>
<circle cx="490.20" cy="115.20" r="2.6" fill="#00c000"/>
<circle cx="483.70" cy="117.20" r="2.6" fill="#00c000"/>
<circle cx="496.80" cy="117.20" r="2.6" fill="#00c000"/>
<circle cx="503.30" cy="117.80" r="2.6" fill="#00c000"/>
<circle cx="490.20" cy="120.80" r="2.6" fill="#00c000"/>
<circle cx="490.20" cy="128.90" r="2.6" fill="#00c000"/>
<circle cx="496.80" cy="133.30" r="2.6" fill="#00c000"/>
<circle cx="493.60" cy="141.00" r="2.6" fill="#00c000"/>
<circle cx="490.20" cy="147.40" r="2.6" fill="#00c000"/>
<circle cx="496.80" cy="147.40" r="2.6" fill="#00c000"/>
<circle cx="483.70" cy="178.00" r="2.6" fill="#00c000"/>
<circle cx="490.20" cy="178.00" r="2.6" fill="#00c000"/>
<circle cx="496.80" cy="178.00" r="2.6" fill="#00c000"/>
<circle cx="503.30" cy="178.00" r="2.6" fill="#00c000"/>
<line x1="587.30" y1="122.00" x2="587.30" y2="139.00" stroke="#000" stroke-width="0.75" />
<line x1="581.00" y1="122.00" x2="593.60" y2="122.00" stroke="#000" stroke-width="0.75" />
<line x1="581.00" y1="139.00" x2="593.60" y2="139.00" stroke="#000" stroke-width="0.75" />
<line x1="575.00" y1="126.80" x2="599.60" y2="126.80" stroke="#000" stroke-width="1.5" />
<circle cx="587.40" cy="106.20" r="2.6" fill="#606060"/>
<circle cx="587.40" cy="122.80" r="2.6" fill="#606060"/>
<circle cx="587.40" cy="128.90" r="2.6" fill="#606060"/>
<circle cx="584.30" cy="137.40" r="2.6" fill="#606060"/>
<circle cx="587.40" cy="140.30" r="2.6" fill="#606060"/>
<circle cx="578.50" cy="147.20" r="2.6" fill="#606060"/>
<circle cx="581.60" cy="147.20" r="2.6" fill="#606060"/>
<circle cx="584.70" cy="147.20" r="2.6" fill="#606060"/>
<circle cx="587.80" cy="147.20" r="2.6" fill="#606060"/>
<circle cx="590.90" cy="147.20" r="2.6" fill="#606060"/>
<circle cx="594.00" cy="147.20" r="2.6" fill="#606060"/>
<circle cx="597.00" cy="147.20" r="2.6" fill="#606060"/>
<circle cx="584.90" cy="177.20" r="2.6" fill="#606060"/>
<circle cx="587.50" cy="177.20" r="2.6" fill="#606060"/>
<circle cx="590.10" cy="177.20" r="2.6" fill="#606060"/>
<line x1="623.80" y1="156.20" x2="623.80" y2="171.70" stroke="#000" stroke-width="0.75" />
<line x1="618.00" y1="156.20" x2="629.60" y2="156.20" stroke="#000" stroke-width="0.75" />
<line x1="618.00" y1="171.70" x2="629.60" y2="171.70" stroke="#000" stroke-width="0.75" />
<line x1="611.70" y1="160.90" x2="635.90" y2="160.90" stroke="#000" stroke-width="1.5" />
<rect x="611.7" y="174.7" width="24.2" height="5" fill="#ff0000"/>
<rect x="621.30" y="138.20" width="5.0" height="5.0" fill="#ff0000"/>
<rect x="621.30" y="152.00" width="5.0" height="5.0" fill="#ff0000"/>
<rect x="611.70" y="174.70" width="5.0" height="5.0" fill="#ff0000"/>
<rect x="613.30" y="174.70" width="5.0" height="5.0" fill="#ff0000"/>
<rect x="614.90" y="174.70" width="5.0" height="5.0" fill="#ff0000"/>
<rect x="616.50" y="174.70" width="5.0" height="5.0" fill="#ff0000"/>
<rect x="618.10" y="174.70" width="5.0" height="5.0" fill="#ff0000"/>
<rect x="619.70" y="174.70" width="5.0" height="5.0" fill="#ff0000"/>
<rect x="621.30" y="174.70" width="5.0" height="5.0" fill="#ff0000"/>
<rect x="622.90" y="174.70" width="5.0" height="5.0" fill="#ff0000"/>
<rect x="624.50" y="174.70" width="5.0" height="5.0" fill="#ff0000"/>
<rect x="626.10" y="174.70" width="5.0" height="5.0" fill="#ff0000"/>
<rect x="627.70" y="174.70" width="5.0" height="5.0" fill="#ff0000"/>
<rect x="629.30" y="174.70" width="5.0" height="5.0" fill="#ff0000"/>
<rect x="630.90" y="174.70" width="5.0" height="5.0" fill="#ff0000"/>
<line x1="660.00" y1="133.30" x2="660.00" y2="141.70" stroke="#000" stroke-width="0.75" />
<line x1="654.10" y1="133.30" x2="665.90" y2="133.30" stroke="#000" stroke-width="0.75" />
<line x1="654.10" y1="141.70" x2="665.90" y2="141.70" stroke="#000" stroke-width="0.75" />
<line x1="647.90" y1="136.90" x2="672.10" y2="136.90" stroke="#000" stroke-width="1.5" />
<circle cx="662.00" cy="121.20" r="2.6" fill="#00c000"/>
<circle cx="658.00" cy="125.10" r="2.6" fill="#00c000"/>
<circle cx="662.00" cy="131.30" r="2.6" fill="#00c000"/>
<circle cx="658.00" cy="134.70" r="2.6" fill="#00c000"/>
<circle cx="662.00" cy="137.30" r="2.6" fill="#00c000"/>
<circle cx="654.50" cy="147.10" r="2.6" fill="#00c000"/>
<circle cx="658.10" cy="147.10" r="2.6" fill="#00c000"/>
<circle cx="661.80" cy="147.10" r="2.6" fill="#00c000"/>
<circle cx="665.40" cy="147.10" r="2.6" fill="#00c000"/>
<circle cx="650.60" cy="177.30" r="2.6" fill="#00c000"/>
<circle cx="654.30" cy="177.30" r="2.6" fill="#00c000"/>
<circle cx="658.10" cy="177.30" r="2.6" fill="#00c000"/>
<circle cx="661.80" cy="177.30" r="2.6" fill="#00c000"/>
<circle cx="665.60" cy="177.30" r="2.6" fill="#00c000"/>
<circle cx="669.30" cy="177.30" r="2.6" fill="#00c000"/>
<line x1="116.20" y1="321.30" x2="116.20" y2="460.60" stroke="#000" stroke-width="1.4" />
<line x1="111.00" y1="460.00" x2="116.20" y2="460.00" stroke="#000" stroke-width="1.3" />
<text x="105.44" y="463.85" font-size="8.2" font-weight="bold" style="font-kerning:none" xml:space="preserve" >0</text>
<path class="g1" vector-effect="non-scaling-stroke" d="M478,0 L478,1170 L140,959 L140,1180 L493,1409 L759,1409 L759,0 Z" transform="translate(91.16,467.70) scale(0.00601,-0.00601)"/>
<text x="98.00" y="467.70" font-size="12.3" font-weight="bold" style="font-kerning:none" xml:space="preserve" >0</text>
<line x1="111.00" y1="447.45" x2="116.20" y2="447.45" stroke="#000" stroke-width="1.3" />
<path class="g1" vector-effect="non-scaling-stroke" d="M478,0 L478,1170 L140,959 L140,1180 L493,1409 L759,1409 L759,0 Z" transform="translate(105.44,451.30) scale(0.00400,-0.00400)"/>
<path class="g1" vector-effect="non-scaling-stroke" d="M478,0 L478,1170 L140,959 L140,1180 L493,1409 L759,1409 L759,0 Z" transform="translate(91.16,455.15) scale(0.00601,-0.00601)"/>
<text x="98.00" y="455.15" font-size="12.3" font-weight="bold" style="font-kerning:none" xml:space="preserve" >0</text>
<line x1="111.00" y1="434.89" x2="116.20" y2="434.89" stroke="#000" stroke-width="1.3" />
<text x="105.44" y="438.74" font-size="8.2" font-weight="bold" style="font-kerning:none" xml:space="preserve" >2</text>
<path class="g1" vector-effect="non-scaling-stroke" d="M478,0 L478,1170 L140,959 L140,1180 L493,1409 L759,1409 L759,0 Z" transform="translate(91.16,442.59) scale(0.00601,-0.00601)"/>
<text x="98.00" y="442.59" font-size="12.3" font-weight="bold" style="font-kerning:none" xml:space="preserve" >0</text>
<line x1="111.00" y1="422.34" x2="116.20" y2="422.34" stroke="#000" stroke-width="1.3" />
<text x="105.44" y="426.19" font-size="8.2" font-weight="bold" style="font-kerning:none" xml:space="preserve" >3</text>
<path class="g1" vector-effect="non-scaling-stroke" d="M478,0 L478,1170 L140,959 L140,1180 L493,1409 L759,1409 L759,0 Z" transform="translate(91.16,430.04) scale(0.00601,-0.00601)"/>
<text x="98.00" y="430.04" font-size="12.3" font-weight="bold" style="font-kerning:none" xml:space="preserve" >0</text>
<line x1="111.00" y1="409.78" x2="116.20" y2="409.78" stroke="#000" stroke-width="1.3" />
<text x="105.44" y="413.63" font-size="8.2" font-weight="bold" style="font-kerning:none" xml:space="preserve" >4</text>
<path class="g1" vector-effect="non-scaling-stroke" d="M478,0 L478,1170 L140,959 L140,1180 L493,1409 L759,1409 L759,0 Z" transform="translate(91.16,417.48) scale(0.00601,-0.00601)"/>
<text x="98.00" y="417.48" font-size="12.3" font-weight="bold" style="font-kerning:none" xml:space="preserve" >0</text>
<line x1="111.00" y1="397.23" x2="116.20" y2="397.23" stroke="#000" stroke-width="1.3" />
<text x="105.44" y="401.08" font-size="8.2" font-weight="bold" style="font-kerning:none" xml:space="preserve" >5</text>
<path class="g1" vector-effect="non-scaling-stroke" d="M478,0 L478,1170 L140,959 L140,1180 L493,1409 L759,1409 L759,0 Z" transform="translate(91.16,404.93) scale(0.00601,-0.00601)"/>
<text x="98.00" y="404.93" font-size="12.3" font-weight="bold" style="font-kerning:none" xml:space="preserve" >0</text>
<line x1="111.00" y1="384.67" x2="116.20" y2="384.67" stroke="#000" stroke-width="1.3" />
<text x="105.44" y="388.52" font-size="8.2" font-weight="bold" style="font-kerning:none" xml:space="preserve" >6</text>
<path class="g1" vector-effect="non-scaling-stroke" d="M478,0 L478,1170 L140,959 L140,1180 L493,1409 L759,1409 L759,0 Z" transform="translate(91.16,392.37) scale(0.00601,-0.00601)"/>
<text x="98.00" y="392.37" font-size="12.3" font-weight="bold" style="font-kerning:none" xml:space="preserve" >0</text>
<line x1="111.00" y1="372.12" x2="116.20" y2="372.12" stroke="#000" stroke-width="1.3" />
<text x="105.44" y="375.97" font-size="8.2" font-weight="bold" style="font-kerning:none" xml:space="preserve" >7</text>
<path class="g1" vector-effect="non-scaling-stroke" d="M478,0 L478,1170 L140,959 L140,1180 L493,1409 L759,1409 L759,0 Z" transform="translate(91.16,379.82) scale(0.00601,-0.00601)"/>
<text x="98.00" y="379.82" font-size="12.3" font-weight="bold" style="font-kerning:none" xml:space="preserve" >0</text>
<line x1="111.00" y1="359.56" x2="116.20" y2="359.56" stroke="#000" stroke-width="1.3" />
<text x="105.44" y="363.41" font-size="8.2" font-weight="bold" style="font-kerning:none" xml:space="preserve" >8</text>
<path class="g1" vector-effect="non-scaling-stroke" d="M478,0 L478,1170 L140,959 L140,1180 L493,1409 L759,1409 L759,0 Z" transform="translate(91.16,367.26) scale(0.00601,-0.00601)"/>
<text x="98.00" y="367.26" font-size="12.3" font-weight="bold" style="font-kerning:none" xml:space="preserve" >0</text>
<line x1="111.00" y1="347.01" x2="116.20" y2="347.01" stroke="#000" stroke-width="1.3" />
<text x="105.44" y="350.86" font-size="8.2" font-weight="bold" style="font-kerning:none" xml:space="preserve" >9</text>
<path class="g1" vector-effect="non-scaling-stroke" d="M478,0 L478,1170 L140,959 L140,1180 L493,1409 L759,1409 L759,0 Z" transform="translate(91.16,354.71) scale(0.00601,-0.00601)"/>
<text x="98.00" y="354.71" font-size="12.3" font-weight="bold" style="font-kerning:none" xml:space="preserve" >0</text>
<line x1="111.00" y1="334.45" x2="116.20" y2="334.45" stroke="#000" stroke-width="1.3" />
<path class="g1" vector-effect="non-scaling-stroke" d="M478,0 L478,1170 L140,959 L140,1180 L493,1409 L759,1409 L759,0 Z" transform="translate(100.88,338.30) scale(0.00400,-0.00400)"/>
<text x="105.44" y="338.30" font-size="8.2" font-weight="bold" style="font-kerning:none" xml:space="preserve" >0</text>
<path class="g1" vector-effect="non-scaling-stroke" d="M478,0 L478,1170 L140,959 L140,1180 L493,1409 L759,1409 L759,0 Z" transform="translate(86.60,342.15) scale(0.00601,-0.00601)"/>
<text x="93.44" y="342.15" font-size="12.3" font-weight="bold" style="font-kerning:none" xml:space="preserve" >0</text>
<line x1="111.00" y1="321.90" x2="116.20" y2="321.90" stroke="#000" stroke-width="1.3" />
<path class="g1" vector-effect="non-scaling-stroke" d="M478,0 L478,1170 L140,959 L140,1180 L493,1409 L759,1409 L759,0 Z" transform="translate(100.88,325.75) scale(0.00400,-0.00400)"/>
<path class="g1" vector-effect="non-scaling-stroke" d="M478,0 L478,1170 L140,959 L140,1180 L493,1409 L759,1409 L759,0 Z" transform="translate(105.44,325.75) scale(0.00400,-0.00400)"/>
<path class="g1" vector-effect="non-scaling-stroke" d="M478,0 L478,1170 L140,959 L140,1180 L493,1409 L759,1409 L759,0 Z" transform="translate(86.60,329.60) scale(0.00601,-0.00601)"/>
<text x="93.44" y="329.60" font-size="12.3" font-weight="bold" style="font-kerning:none" xml:space="preserve" >0</text>
<line x1="115.50" y1="460.00" x2="255.80" y2="460.00" stroke="#000" stroke-width="1.4" />
<line x1="144.10" y1="460.00" x2="144.10" y2="465.90" stroke="#000" stroke-width="1.3" />
<line x1="185.60" y1="460.00" x2="185.60" y2="465.90" stroke="#000" stroke-width="1.3" />
<line x1="227.10" y1="460.00" x2="227.10" y2="465.90" stroke="#000" stroke-width="1.3" />
<line x1="118.40" y1="447.45" x2="254.30" y2="447.45" stroke="#000" stroke-width="1.4" stroke-dasharray="1.4 1.34"/>
<text transform="translate(151.60,473.00) rotate(-45)" font-size="13" font-weight="bold" text-anchor="end" stroke="#000" stroke-width="0.35">G636</text>
<text transform="translate(194.60,473.30) rotate(-45)" font-size="13" font-weight="bold" text-anchor="end" stroke="#000" stroke-width="0.35">G636 Δ<tspan font-style="italic">invL</tspan></text>
<text transform="translate(234.63,473.37) rotate(-45)" font-size="13" font-weight="bold" text-anchor="end" stroke="#000" stroke-width="0.35">G636 <tspan font-style="italic">invL</tspan><tspan dx="-0.77" dy="-4.5" font-size="8.5" stroke="#000" stroke-width="0.35">+</tspan></text>
<text transform="translate(82.90,394.9) rotate(-90)" font-size="12.4" font-weight="bold" text-anchor="middle">CFU</text>
<line x1="306.60" y1="321.60" x2="306.60" y2="460.80" stroke="#000" stroke-width="1.4" />
<line x1="301.40" y1="460.20" x2="306.60" y2="460.20" stroke="#000" stroke-width="1.3" />
<text x="295.84" y="464.05" font-size="8.2" font-weight="bold" style="font-kerning:none" xml:space="preserve" >0</text>
<path class="g1" vector-effect="non-scaling-stroke" d="M478,0 L478,1170 L140,959 L140,1180 L493,1409 L759,1409 L759,0 Z" transform="translate(281.56,467.90) scale(0.00601,-0.00601)"/>
<text x="288.40" y="467.90" font-size="12.3" font-weight="bold" style="font-kerning:none" xml:space="preserve" >0</text>
<line x1="301.40" y1="447.65" x2="306.60" y2="447.65" stroke="#000" stroke-width="1.3" />
<path class="g1" vector-effect="non-scaling-stroke" d="M478,0 L478,1170 L140,959 L140,1180 L493,1409 L759,1409 L759,0 Z" transform="translate(295.84,451.50) scale(0.00400,-0.00400)"/>
<path class="g1" vector-effect="non-scaling-stroke" d="M478,0 L478,1170 L140,959 L140,1180 L493,1409 L759,1409 L759,0 Z" transform="translate(281.56,455.35) scale(0.00601,-0.00601)"/>
<text x="288.40" y="455.35" font-size="12.3" font-weight="bold" style="font-kerning:none" xml:space="preserve" >0</text>
<line x1="301.40" y1="435.11" x2="306.60" y2="435.11" stroke="#000" stroke-width="1.3" />
<text x="295.84" y="438.96" font-size="8.2" font-weight="bold" style="font-kerning:none" xml:space="preserve" >2</text>
<path class="g1" vector-effect="non-scaling-stroke" d="M478,0 L478,1170 L140,959 L140,1180 L493,1409 L759,1409 L759,0 Z" transform="translate(281.56,442.81) scale(0.00601,-0.00601)"/>
<text x="288.40" y="442.81" font-size="12.3" font-weight="bold" style="font-kerning:none" xml:space="preserve" >0</text>
<line x1="301.40" y1="422.56" x2="306.60" y2="422.56" stroke="#000" stroke-width="1.3" />
<text x="295.84" y="426.41" font-size="8.2" font-weight="bold" style="font-kerning:none" xml:space="preserve" >3</text>
<path class="g1" vector-effect="non-scaling-stroke" d="M478,0 L478,1170 L140,959 L140,1180 L493,1409 L759,1409 L759,0 Z" transform="translate(281.56,430.26) scale(0.00601,-0.00601)"/>
<text x="288.40" y="430.26" font-size="12.3" font-weight="bold" style="font-kerning:none" xml:space="preserve" >0</text>
<line x1="301.40" y1="410.02" x2="306.60" y2="410.02" stroke="#000" stroke-width="1.3" />
<text x="295.84" y="413.87" font-size="8.2" font-weight="bold" style="font-kerning:none" xml:space="preserve" >4</text>
<path class="g1" vector-effect="non-scaling-stroke" d="M478,0 L478,1170 L140,959 L140,1180 L493,1409 L759,1409 L759,0 Z" transform="translate(281.56,417.72) scale(0.00601,-0.00601)"/>
<text x="288.40" y="417.72" font-size="12.3" font-weight="bold" style="font-kerning:none" xml:space="preserve" >0</text>
<line x1="301.40" y1="397.47" x2="306.60" y2="397.47" stroke="#000" stroke-width="1.3" />
<text x="295.84" y="401.32" font-size="8.2" font-weight="bold" style="font-kerning:none" xml:space="preserve" >5</text>
<path class="g1" vector-effect="non-scaling-stroke" d="M478,0 L478,1170 L140,959 L140,1180 L493,1409 L759,1409 L759,0 Z" transform="translate(281.56,405.17) scale(0.00601,-0.00601)"/>
<text x="288.40" y="405.17" font-size="12.3" font-weight="bold" style="font-kerning:none" xml:space="preserve" >0</text>
<line x1="301.40" y1="384.93" x2="306.60" y2="384.93" stroke="#000" stroke-width="1.3" />
<text x="295.84" y="388.78" font-size="8.2" font-weight="bold" style="font-kerning:none" xml:space="preserve" >6</text>
<path class="g1" vector-effect="non-scaling-stroke" d="M478,0 L478,1170 L140,959 L140,1180 L493,1409 L759,1409 L759,0 Z" transform="translate(281.56,392.63) scale(0.00601,-0.00601)"/>
<text x="288.40" y="392.63" font-size="12.3" font-weight="bold" style="font-kerning:none" xml:space="preserve" >0</text>
<line x1="301.40" y1="372.38" x2="306.60" y2="372.38" stroke="#000" stroke-width="1.3" />
<text x="295.84" y="376.23" font-size="8.2" font-weight="bold" style="font-kerning:none" xml:space="preserve" >7</text>
<path class="g1" vector-effect="non-scaling-stroke" d="M478,0 L478,1170 L140,959 L140,1180 L493,1409 L759,1409 L759,0 Z" transform="translate(281.56,380.08) scale(0.00601,-0.00601)"/>
<text x="288.40" y="380.08" font-size="12.3" font-weight="bold" style="font-kerning:none" xml:space="preserve" >0</text>
<line x1="301.40" y1="359.84" x2="306.60" y2="359.84" stroke="#000" stroke-width="1.3" />
<text x="295.84" y="363.69" font-size="8.2" font-weight="bold" style="font-kerning:none" xml:space="preserve" >8</text>
<path class="g1" vector-effect="non-scaling-stroke" d="M478,0 L478,1170 L140,959 L140,1180 L493,1409 L759,1409 L759,0 Z" transform="translate(281.56,367.54) scale(0.00601,-0.00601)"/>
<text x="288.40" y="367.54" font-size="12.3" font-weight="bold" style="font-kerning:none" xml:space="preserve" >0</text>
<line x1="301.40" y1="347.29" x2="306.60" y2="347.29" stroke="#000" stroke-width="1.3" />
<text x="295.84" y="351.14" font-size="8.2" font-weight="bold" style="font-kerning:none" xml:space="preserve" >9</text>
<path class="g1" vector-effect="non-scaling-stroke" d="M478,0 L478,1170 L140,959 L140,1180 L493,1409 L759,1409 L759,0 Z" transform="translate(281.56,354.99) scale(0.00601,-0.00601)"/>
<text x="288.40" y="354.99" font-size="12.3" font-weight="bold" style="font-kerning:none" xml:space="preserve" >0</text>
<line x1="301.40" y1="334.75" x2="306.60" y2="334.75" stroke="#000" stroke-width="1.3" />
<path class="g1" vector-effect="non-scaling-stroke" d="M478,0 L478,1170 L140,959 L140,1180 L493,1409 L759,1409 L759,0 Z" transform="translate(291.28,338.60) scale(0.00400,-0.00400)"/>
<text x="295.84" y="338.60" font-size="8.2" font-weight="bold" style="font-kerning:none" xml:space="preserve" >0</text>
<path class="g1" vector-effect="non-scaling-stroke" d="M478,0 L478,1170 L140,959 L140,1180 L493,1409 L759,1409 L759,0 Z" transform="translate(277.00,342.45) scale(0.00601,-0.00601)"/>
<text x="283.84" y="342.45" font-size="12.3" font-weight="bold" style="font-kerning:none" xml:space="preserve" >0</text>
<line x1="301.40" y1="322.20" x2="306.60" y2="322.20" stroke="#000" stroke-width="1.3" />
<path class="g1" vector-effect="non-scaling-stroke" d="M478,0 L478,1170 L140,959 L140,1180 L493,1409 L759,1409 L759,0 Z" transform="translate(291.28,326.05) scale(0.00400,-0.00400)"/>
<path class="g1" vector-effect="non-scaling-stroke" d="M478,0 L478,1170 L140,959 L140,1180 L493,1409 L759,1409 L759,0 Z" transform="translate(295.84,326.05) scale(0.00400,-0.00400)"/>
<path class="g1" vector-effect="non-scaling-stroke" d="M478,0 L478,1170 L140,959 L140,1180 L493,1409 L759,1409 L759,0 Z" transform="translate(277.00,329.90) scale(0.00601,-0.00601)"/>
<text x="283.84" y="329.90" font-size="12.3" font-weight="bold" style="font-kerning:none" xml:space="preserve" >0</text>
<line x1="305.90" y1="460.20" x2="445.30" y2="460.20" stroke="#000" stroke-width="1.4" />
<line x1="334.50" y1="460.20" x2="334.50" y2="466.10" stroke="#000" stroke-width="1.3" />
<line x1="376.00" y1="460.20" x2="376.00" y2="466.10" stroke="#000" stroke-width="1.3" />
<line x1="417.50" y1="460.20" x2="417.50" y2="466.10" stroke="#000" stroke-width="1.3" />
<line x1="308.80" y1="447.65" x2="443.80" y2="447.65" stroke="#000" stroke-width="1.4" stroke-dasharray="1.4 1.34"/>
<text transform="translate(342.00,473.20) rotate(-45)" font-size="13" font-weight="bold" text-anchor="end" stroke="#000" stroke-width="0.35">G636</text>
<text transform="translate(385.00,473.50) rotate(-45)" font-size="13" font-weight="bold" text-anchor="end" stroke="#000" stroke-width="0.35">G636 Δ<tspan font-style="italic">invL</tspan></text>
<text transform="translate(425.03,473.57) rotate(-45)" font-size="13" font-weight="bold" text-anchor="end" stroke="#000" stroke-width="0.35">G636 <tspan font-style="italic">invL</tspan><tspan dx="-0.77" dy="-4.5" font-size="8.5" stroke="#000" stroke-width="0.35">+</tspan></text>
<text transform="translate(273.30,394.9) rotate(-90)" font-size="12.4" font-weight="bold" text-anchor="middle">CFU</text>
<line x1="495.30" y1="321.70" x2="495.30" y2="460.50" stroke="#000" stroke-width="1.4" />
<line x1="490.10" y1="459.90" x2="495.30" y2="459.90" stroke="#000" stroke-width="1.3" />
<text x="484.54" y="463.75" font-size="8.2" font-weight="bold" style="font-kerning:none" xml:space="preserve" >0</text>
<path class="g1" vector-effect="non-scaling-stroke" d="M478,0 L478,1170 L140,959 L140,1180 L493,1409 L759,1409 L759,0 Z" transform="translate(470.26,467.60) scale(0.00601,-0.00601)"/>
<text x="477.10" y="467.60" font-size="12.3" font-weight="bold" style="font-kerning:none" xml:space="preserve" >0</text>
<line x1="490.10" y1="447.39" x2="495.30" y2="447.39" stroke="#000" stroke-width="1.3" />
<path class="g1" vector-effect="non-scaling-stroke" d="M478,0 L478,1170 L140,959 L140,1180 L493,1409 L759,1409 L759,0 Z" transform="translate(484.54,451.24) scale(0.00400,-0.00400)"/>
<path class="g1" vector-effect="non-scaling-stroke" d="M478,0 L478,1170 L140,959 L140,1180 L493,1409 L759,1409 L759,0 Z" transform="translate(470.26,455.09) scale(0.00601,-0.00601)"/>
<text x="477.10" y="455.09" font-size="12.3" font-weight="bold" style="font-kerning:none" xml:space="preserve" >0</text>
<line x1="490.10" y1="434.88" x2="495.30" y2="434.88" stroke="#000" stroke-width="1.3" />
<text x="484.54" y="438.73" font-size="8.2" font-weight="bold" style="font-kerning:none" xml:space="preserve" >2</text>
<path class="g1" vector-effect="non-scaling-stroke" d="M478,0 L478,1170 L140,959 L140,1180 L493,1409 L759,1409 L759,0 Z" transform="translate(470.26,442.58) scale(0.00601,-0.00601)"/>
<text x="477.10" y="442.58" font-size="12.3" font-weight="bold" style="font-kerning:none" xml:space="preserve" >0</text>
<line x1="490.10" y1="422.37" x2="495.30" y2="422.37" stroke="#000" stroke-width="1.3" />
<text x="484.54" y="426.22" font-size="8.2" font-weight="bold" style="font-kerning:none" xml:space="preserve" >3</text>
<path class="g1" vector-effect="non-scaling-stroke" d="M478,0 L478,1170 L140,959 L140,1180 L493,1409 L759,1409 L759,0 Z" transform="translate(470.26,430.07) scale(0.00601,-0.00601)"/>
<text x="477.10" y="430.07" font-size="12.3" font-weight="bold" style="font-kerning:none" xml:space="preserve" >0</text>
<line x1="490.10" y1="409.86" x2="495.30" y2="409.86" stroke="#000" stroke-width="1.3" />
<text x="484.54" y="413.71" font-size="8.2" font-weight="bold" style="font-kerning:none" xml:space="preserve" >4</text>
<path class="g1" vector-effect="non-scaling-stroke" d="M478,0 L478,1170 L140,959 L140,1180 L493,1409 L759,1409 L759,0 Z" transform="translate(470.26,417.56) scale(0.00601,-0.00601)"/>
<text x="477.10" y="417.56" font-size="12.3" font-weight="bold" style="font-kerning:none" xml:space="preserve" >0</text>
<line x1="490.10" y1="397.35" x2="495.30" y2="397.35" stroke="#000" stroke-width="1.3" />
<text x="484.54" y="401.20" font-size="8.2" font-weight="bold" style="font-kerning:none" xml:space="preserve" >5</text>
<path class="g1" vector-effect="non-scaling-stroke" d="M478,0 L478,1170 L140,959 L140,1180 L493,1409 L759,1409 L759,0 Z" transform="translate(470.26,405.05) scale(0.00601,-0.00601)"/>
<text x="477.10" y="405.05" font-size="12.3" font-weight="bold" style="font-kerning:none" xml:space="preserve" >0</text>
<line x1="490.10" y1="384.85" x2="495.30" y2="384.85" stroke="#000" stroke-width="1.3" />
<text x="484.54" y="388.70" font-size="8.2" font-weight="bold" style="font-kerning:none" xml:space="preserve" >6</text>
<path class="g1" vector-effect="non-scaling-stroke" d="M478,0 L478,1170 L140,959 L140,1180 L493,1409 L759,1409 L759,0 Z" transform="translate(470.26,392.55) scale(0.00601,-0.00601)"/>
<text x="477.10" y="392.55" font-size="12.3" font-weight="bold" style="font-kerning:none" xml:space="preserve" >0</text>
<line x1="490.10" y1="372.34" x2="495.30" y2="372.34" stroke="#000" stroke-width="1.3" />
<text x="484.54" y="376.19" font-size="8.2" font-weight="bold" style="font-kerning:none" xml:space="preserve" >7</text>
<path class="g1" vector-effect="non-scaling-stroke" d="M478,0 L478,1170 L140,959 L140,1180 L493,1409 L759,1409 L759,0 Z" transform="translate(470.26,380.04) scale(0.00601,-0.00601)"/>
<text x="477.10" y="380.04" font-size="12.3" font-weight="bold" style="font-kerning:none" xml:space="preserve" >0</text>
<line x1="490.10" y1="359.83" x2="495.30" y2="359.83" stroke="#000" stroke-width="1.3" />
<text x="484.54" y="363.68" font-size="8.2" font-weight="bold" style="font-kerning:none" xml:space="preserve" >8</text>
<path class="g1" vector-effect="non-scaling-stroke" d="M478,0 L478,1170 L140,959 L140,1180 L493,1409 L759,1409 L759,0 Z" transform="translate(470.26,367.53) scale(0.00601,-0.00601)"/>
<text x="477.10" y="367.53" font-size="12.3" font-weight="bold" style="font-kerning:none" xml:space="preserve" >0</text>
<line x1="490.10" y1="347.32" x2="495.30" y2="347.32" stroke="#000" stroke-width="1.3" />
<text x="484.54" y="351.17" font-size="8.2" font-weight="bold" style="font-kerning:none" xml:space="preserve" >9</text>
<path class="g1" vector-effect="non-scaling-stroke" d="M478,0 L478,1170 L140,959 L140,1180 L493,1409 L759,1409 L759,0 Z" transform="translate(470.26,355.02) scale(0.00601,-0.00601)"/>
<text x="477.10" y="355.02" font-size="12.3" font-weight="bold" style="font-kerning:none" xml:space="preserve" >0</text>
<line x1="490.10" y1="334.81" x2="495.30" y2="334.81" stroke="#000" stroke-width="1.3" />
<path class="g1" vector-effect="non-scaling-stroke" d="M478,0 L478,1170 L140,959 L140,1180 L493,1409 L759,1409 L759,0 Z" transform="translate(479.98,338.66) scale(0.00400,-0.00400)"/>
<text x="484.54" y="338.66" font-size="8.2" font-weight="bold" style="font-kerning:none" xml:space="preserve" >0</text>
<path class="g1" vector-effect="non-scaling-stroke" d="M478,0 L478,1170 L140,959 L140,1180 L493,1409 L759,1409 L759,0 Z" transform="translate(465.70,342.51) scale(0.00601,-0.00601)"/>
<text x="472.54" y="342.51" font-size="12.3" font-weight="bold" style="font-kerning:none" xml:space="preserve" >0</text>
<line x1="490.10" y1="322.30" x2="495.30" y2="322.30" stroke="#000" stroke-width="1.3" />
<path class="g1" vector-effect="non-scaling-stroke" d="M478,0 L478,1170 L140,959 L140,1180 L493,1409 L759,1409 L759,0 Z" transform="translate(479.98,326.15) scale(0.00400,-0.00400)"/>
<path class="g1" vector-effect="non-scaling-stroke" d="M478,0 L478,1170 L140,959 L140,1180 L493,1409 L759,1409 L759,0 Z" transform="translate(484.54,326.15) scale(0.00400,-0.00400)"/>
<path class="g1" vector-effect="non-scaling-stroke" d="M478,0 L478,1170 L140,959 L140,1180 L493,1409 L759,1409 L759,0 Z" transform="translate(465.70,330.00) scale(0.00601,-0.00601)"/>
<text x="472.54" y="330.00" font-size="12.3" font-weight="bold" style="font-kerning:none" xml:space="preserve" >0</text>
<line x1="494.60" y1="459.90" x2="634.20" y2="459.90" stroke="#000" stroke-width="1.4" />
<line x1="523.20" y1="459.90" x2="523.20" y2="465.80" stroke="#000" stroke-width="1.3" />
<line x1="564.70" y1="459.90" x2="564.70" y2="465.80" stroke="#000" stroke-width="1.3" />
<line x1="606.20" y1="459.90" x2="606.20" y2="465.80" stroke="#000" stroke-width="1.3" />
<line x1="497.50" y1="447.39" x2="632.70" y2="447.39" stroke="#000" stroke-width="1.4" stroke-dasharray="1.4 1.34"/>
<text transform="translate(530.70,472.90) rotate(-45)" font-size="13" font-weight="bold" text-anchor="end" stroke="#000" stroke-width="0.35">G636</text>
<text transform="translate(573.70,473.20) rotate(-45)" font-size="13" font-weight="bold" text-anchor="end" stroke="#000" stroke-width="0.35">G636 Δ<tspan font-style="italic">invL</tspan></text>
<text transform="translate(613.73,473.27) rotate(-45)" font-size="13" font-weight="bold" text-anchor="end" stroke="#000" stroke-width="0.35">G636 <tspan font-style="italic">invL</tspan><tspan dx="-0.77" dy="-4.5" font-size="8.5" stroke="#000" stroke-width="0.35">+</tspan></text>
<text transform="translate(462.00,394.9) rotate(-90)" font-size="12.4" font-weight="bold" text-anchor="middle">CFU</text>
<text transform="translate(60.6,393.9) rotate(-90)" font-size="17.2" font-weight="bold" text-anchor="middle">Acute Model</text>
<text x="157.20" y="293.50" font-size="17.2" font-weight="bold" style="font-kerning:none" xml:space="preserve" >Lungs</text>
<line x1="157.40" y1="296.20" x2="208.60" y2="296.20" stroke="#000" stroke-width="1.6" />
<text x="345.20" y="293.80" font-size="17.2" font-weight="bold" style="font-kerning:none" xml:space="preserve" >Spleen</text>
<line x1="345.60" y1="296.00" x2="401.20" y2="296.00" stroke="#000" stroke-width="1.6" />
<text x="529.24" y="293.80" font-size="17.2" font-weight="bold" style="font-kerning:none" xml:space="preserve" >Kidneys</text>
<line x1="529.80" y1="296.00" x2="595.60" y2="296.00" stroke="#000" stroke-width="1.6" />
<line x1="141.90" y1="312.90" x2="230.00" y2="312.90" stroke="#000" stroke-width="2.0" />
<line x1="141.90" y1="326.90" x2="183.40" y2="326.90" stroke="#000" stroke-width="2.0" />
<line x1="187.50" y1="326.90" x2="230.00" y2="326.90" stroke="#000" stroke-width="2.0" />
<text x="185.95" y="309.70" font-size="9.6" font-weight="bold" text-anchor="middle" >ns</text>
<text x="162.65" y="323.70" font-size="9.6" font-weight="bold" text-anchor="middle" >ns</text>
<text x="208.75" y="323.70" font-size="9.6" font-weight="bold" text-anchor="middle" >ns</text>
<line x1="333.00" y1="355.70" x2="420.40" y2="355.70" stroke="#000" stroke-width="2.0" />
<line x1="333.00" y1="369.80" x2="374.30" y2="369.80" stroke="#000" stroke-width="2.0" />
<line x1="378.40" y1="369.80" x2="420.40" y2="369.80" stroke="#000" stroke-width="2.0" />
<text x="376.70" y="352.50" font-size="9.6" font-weight="bold" text-anchor="middle" >ns</text>
<text x="353.65" y="366.60" font-size="9.6" font-weight="bold" text-anchor="middle" >ns</text>
<text x="399.40" y="366.60" font-size="9.6" font-weight="bold" text-anchor="middle" >ns</text>
<line x1="522.30" y1="355.90" x2="609.50" y2="355.90" stroke="#000" stroke-width="2.0" />
<line x1="522.30" y1="370.00" x2="563.40" y2="370.00" stroke="#000" stroke-width="2.0" />
<line x1="567.50" y1="370.00" x2="609.50" y2="370.00" stroke="#000" stroke-width="2.0" />
<text x="565.90" y="352.70" font-size="9.6" font-weight="bold" text-anchor="middle" >ns</text>
<text x="542.85" y="366.80" font-size="9.6" font-weight="bold" text-anchor="middle" >ns</text>
<text x="588.50" y="366.80" font-size="9.6" font-weight="bold" text-anchor="middle" >ns</text>
<line x1="130.70" y1="341.40" x2="157.70" y2="341.40" stroke="#000" stroke-width="1.5" />
<circle cx="132.60" cy="342.00" r="2.6" fill="#606060"/>
<circle cx="135.50" cy="338.20" r="2.6" fill="#606060"/>
<circle cx="137.60" cy="341.40" r="2.6" fill="#606060"/>
<circle cx="140.50" cy="339.40" r="2.6" fill="#606060"/>
<circle cx="142.50" cy="343.70" r="2.6" fill="#606060"/>
<circle cx="145.20" cy="340.20" r="2.6" fill="#606060"/>
<circle cx="147.50" cy="343.70" r="2.6" fill="#606060"/>
<circle cx="149.90" cy="340.80" r="2.6" fill="#606060"/>
<circle cx="152.80" cy="343.70" r="2.6" fill="#606060"/>
<circle cx="155.40" cy="341.10" r="2.6" fill="#606060"/>
<line x1="186.00" y1="342.60" x2="186.00" y2="345.40" stroke="#000" stroke-width="0.75" />
<line x1="179.50" y1="342.60" x2="192.50" y2="342.60" stroke="#000" stroke-width="0.75" />
<line x1="179.50" y1="345.40" x2="192.50" y2="345.40" stroke="#000" stroke-width="0.75" />
<line x1="172.50" y1="343.90" x2="199.50" y2="343.90" stroke="#000" stroke-width="1.5" />
<rect x="176.20" y="336.20" width="5.0" height="5.0" fill="#ff0000"/>
<rect x="185.80" y="336.20" width="5.0" height="5.0" fill="#ff0000"/>
<rect x="171.80" y="339.30" width="5.0" height="5.0" fill="#ff0000"/>
<rect x="180.50" y="340.20" width="5.0" height="5.0" fill="#ff0000"/>
<rect x="189.30" y="341.90" width="5.0" height="5.0" fill="#ff0000"/>
<rect x="194.60" y="347.20" width="5.0" height="5.0" fill="#ff0000"/>
<rect x="171.80" y="348.10" width="5.0" height="5.0" fill="#ff0000"/>
<rect x="180.50" y="347.20" width="5.0" height="5.0" fill="#ff0000"/>
<rect x="189.30" y="349.80" width="5.0" height="5.0" fill="#ff0000"/>
<rect x="176.20" y="344.50" width="5.0" height="5.0" fill="#ff0000"/>
<rect x="185.80" y="344.50" width="5.0" height="5.0" fill="#ff0000"/>
<line x1="227.40" y1="342.80" x2="227.40" y2="346.00" stroke="#000" stroke-width="0.75" />
<line x1="220.90" y1="342.80" x2="233.90" y2="342.80" stroke="#000" stroke-width="0.75" />
<line x1="220.90" y1="346.00" x2="233.90" y2="346.00" stroke="#000" stroke-width="0.75" />
<line x1="213.60" y1="344.30" x2="241.20" y2="344.30" stroke="#000" stroke-width="1.5" />
<circle cx="222.20" cy="340.40" r="2.6" fill="#00c000"/>
<circle cx="227.50" cy="338.10" r="2.6" fill="#00c000"/>
<circle cx="231.80" cy="338.70" r="2.6" fill="#00c000"/>
<circle cx="220.40" cy="347.80" r="2.6" fill="#00c000"/>
<circle cx="226.60" cy="343.40" r="2.6" fill="#00c000"/>
<circle cx="233.60" cy="347.40" r="2.6" fill="#00c000"/>
<circle cx="216.10" cy="352.10" r="2.6" fill="#00c000"/>
<circle cx="224.80" cy="352.10" r="2.6" fill="#00c000"/>
<circle cx="230.10" cy="350.90" r="2.6" fill="#00c000"/>
<circle cx="238.00" cy="352.10" r="2.6" fill="#00c000"/>
<circle cx="233.60" cy="353.90" r="2.6" fill="#00c000"/>
<line x1="334.30" y1="392.60" x2="334.30" y2="397.30" stroke="#000" stroke-width="0.75" />
<line x1="327.80" y1="392.60" x2="340.80" y2="392.60" stroke="#000" stroke-width="0.75" />
<line x1="327.80" y1="397.30" x2="340.80" y2="397.30" stroke="#000" stroke-width="0.75" />
<line x1="320.70" y1="394.50" x2="347.90" y2="394.50" stroke="#000" stroke-width="1.5" />
<circle cx="334.10" cy="385.40" r="2.6" fill="#606060"/>
<circle cx="334.10" cy="391.30" r="2.6" fill="#606060"/>
<circle cx="322.40" cy="396.10" r="2.6" fill="#606060"/>
<circle cx="327.20" cy="400.10" r="2.6" fill="#606060"/>
<circle cx="332.00" cy="398.50" r="2.6" fill="#606060"/>
<circle cx="336.10" cy="399.30" r="2.6" fill="#606060"/>
<circle cx="340.90" cy="399.30" r="2.6" fill="#606060"/>
<circle cx="345.70" cy="399.30" r="2.6" fill="#606060"/>
<circle cx="336.10" cy="405.80" r="2.6" fill="#606060"/>
<circle cx="334.10" cy="413.00" r="2.6" fill="#606060"/>
<line x1="375.80" y1="394.50" x2="375.80" y2="399.30" stroke="#000" stroke-width="0.75" />
<line x1="369.30" y1="394.50" x2="382.30" y2="394.50" stroke="#000" stroke-width="0.75" />
<line x1="369.30" y1="399.30" x2="382.30" y2="399.30" stroke="#000" stroke-width="0.75" />
<line x1="362.30" y1="396.60" x2="389.30" y2="396.60" stroke="#000" stroke-width="1.5" />
<rect x="373.40" y="386.10" width="5.0" height="5.0" fill="#ff0000"/>
<rect x="362.10" y="391.50" width="5.0" height="5.0" fill="#ff0000"/>
<rect x="373.40" y="391.50" width="5.0" height="5.0" fill="#ff0000"/>
<rect x="384.60" y="391.50" width="5.0" height="5.0" fill="#ff0000"/>
<rect x="362.10" y="396.80" width="5.0" height="5.0" fill="#ff0000"/>
<rect x="373.40" y="400.10" width="5.0" height="5.0" fill="#ff0000"/>
<rect x="362.10" y="405.70" width="5.0" height="5.0" fill="#ff0000"/>
<rect x="384.60" y="407.60" width="5.0" height="5.0" fill="#ff0000"/>
<rect x="373.40" y="409.40" width="5.0" height="5.0" fill="#ff0000"/>
<rect x="373.40" y="417.20" width="5.0" height="5.0" fill="#ff0000"/>
<line x1="417.00" y1="393.40" x2="417.00" y2="399.80" stroke="#000" stroke-width="0.75" />
<line x1="410.50" y1="393.40" x2="423.50" y2="393.40" stroke="#000" stroke-width="0.75" />
<line x1="410.50" y1="399.80" x2="423.50" y2="399.80" stroke="#000" stroke-width="0.75" />
<line x1="403.50" y1="395.70" x2="430.50" y2="395.70" stroke="#000" stroke-width="1.5" />
<circle cx="405.90" cy="387.60" r="2.6" fill="#00c000"/>
<circle cx="427.90" cy="388.90" r="2.6" fill="#00c000"/>
<circle cx="417.20" cy="393.70" r="2.6" fill="#00c000"/>
<circle cx="405.90" cy="404.60" r="2.6" fill="#00c000"/>
<circle cx="427.90" cy="405.80" r="2.6" fill="#00c000"/>
<circle cx="417.20" cy="407.40" r="2.6" fill="#00c000"/>
<circle cx="405.90" cy="411.40" r="2.6" fill="#00c000"/>
<circle cx="427.90" cy="412.70" r="2.6" fill="#00c000"/>
<circle cx="417.20" cy="415.40" r="2.6" fill="#00c000"/>
<circle cx="417.20" cy="425.80" r="2.6" fill="#00c000"/>
<line x1="523.20" y1="395.40" x2="523.20" y2="402.00" stroke="#000" stroke-width="0.75" />
<line x1="516.70" y1="395.40" x2="529.70" y2="395.40" stroke="#000" stroke-width="0.75" />
<line x1="516.70" y1="402.00" x2="529.70" y2="402.00" stroke="#000" stroke-width="0.75" />
<line x1="509.70" y1="397.10" x2="536.70" y2="397.10" stroke="#000" stroke-width="1.5" />
<circle cx="523.10" cy="388.00" r="2.6" fill="#606060"/>
<circle cx="512.10" cy="395.90" r="2.6" fill="#606060"/>
<circle cx="512.10" cy="402.00" r="2.6" fill="#606060"/>
<circle cx="519.60" cy="402.00" r="2.6" fill="#606060"/>
<circle cx="526.60" cy="399.40" r="2.6" fill="#606060"/>
<circle cx="534.20" cy="399.40" r="2.6" fill="#606060"/>
<circle cx="519.60" cy="408.70" r="2.6" fill="#606060"/>
<circle cx="526.60" cy="409.90" r="2.6" fill="#606060"/>
<circle cx="534.20" cy="407.00" r="2.6" fill="#606060"/>
<circle cx="523.10" cy="419.20" r="2.6" fill="#606060"/>
<line x1="564.80" y1="392.40" x2="564.80" y2="397.70" stroke="#000" stroke-width="0.75" />
<line x1="558.30" y1="392.40" x2="571.30" y2="392.40" stroke="#000" stroke-width="0.75" />
<line x1="558.30" y1="397.70" x2="571.30" y2="397.70" stroke="#000" stroke-width="0.75" />
<line x1="551.30" y1="394.20" x2="578.30" y2="394.20" stroke="#000" stroke-width="1.5" />
<rect x="550.90" y="383.40" width="5.0" height="5.0" fill="#ff0000"/>
<rect x="562.20" y="386.40" width="5.0" height="5.0" fill="#ff0000"/>
<rect x="550.90" y="392.20" width="5.0" height="5.0" fill="#ff0000"/>
<rect x="573.20" y="393.40" width="5.0" height="5.0" fill="#ff0000"/>
<rect x="562.20" y="398.10" width="5.0" height="5.0" fill="#ff0000"/>
<rect x="550.90" y="399.50" width="5.0" height="5.0" fill="#ff0000"/>
<rect x="573.20" y="403.00" width="5.0" height="5.0" fill="#ff0000"/>
<rect x="562.20" y="407.40" width="5.0" height="5.0" fill="#ff0000"/>
<rect x="567.40" y="413.60" width="5.0" height="5.0" fill="#ff0000"/>
<rect x="556.60" y="417.90" width="5.0" height="5.0" fill="#ff0000"/>
<line x1="606.10" y1="395.90" x2="606.10" y2="402.90" stroke="#000" stroke-width="0.75" />
<line x1="599.60" y1="395.90" x2="612.60" y2="395.90" stroke="#000" stroke-width="0.75" />
<line x1="599.60" y1="402.90" x2="612.60" y2="402.90" stroke="#000" stroke-width="0.75" />
<line x1="592.30" y1="398.20" x2="619.90" y2="398.20" stroke="#000" stroke-width="1.5" />
<circle cx="595.00" cy="388.90" r="2.6" fill="#00c000"/>
<circle cx="617.20" cy="393.80" r="2.6" fill="#00c000"/>
<circle cx="606.00" cy="398.20" r="2.6" fill="#00c000"/>
<circle cx="606.00" cy="403.80" r="2.6" fill="#00c000"/>
<circle cx="617.20" cy="407.70" r="2.6" fill="#00c000"/>
<circle cx="606.00" cy="410.50" r="2.6" fill="#00c000"/>
<circle cx="595.00" cy="413.10" r="2.6" fill="#00c000"/>
<circle cx="617.20" cy="413.40" r="2.6" fill="#00c000"/>
<circle cx="611.60" cy="426.90" r="2.6" fill="#00c000"/>
<circle cx="600.20" cy="430.40" r="2.6" fill="#00c000"/>
</svg></body></html>
